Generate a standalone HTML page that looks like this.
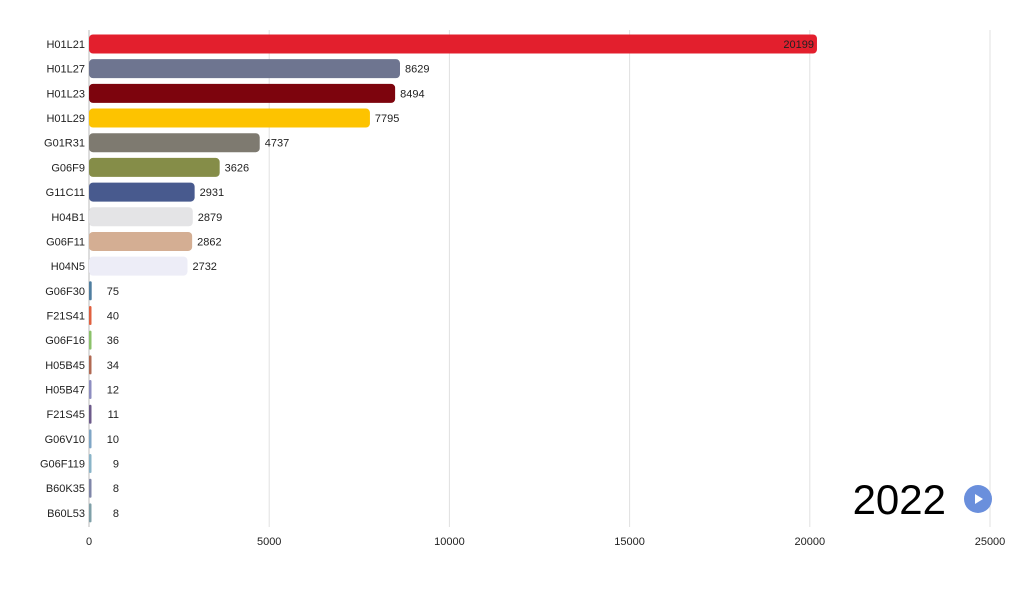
<!DOCTYPE html>
<html><head><meta charset="utf-8"><style>
body{margin:0;background:#fff;}
svg{display:block;font-family:"Liberation Sans",Arial,sans-serif;}
</style></head><body>
<svg id="chart" width="1024" height="590" viewBox="0 0 1024 590"></svg>
<script>
const categories=["H01L21","H01L27","H01L23","H01L29","G01R31","G06F9","G11C11","H04B1","G06F11","H04N5","G06F30","F21S41","G06F16","H05B45","H05B47","F21S45","G06V10","G06F119","B60K35","B60L53"];
const values=[20199,8629,8494,7795,4737,3626,2931,2879,2862,2732,75,40,36,34,12,11,10,9,8,8];
const colors=["#e31f2d","#6e7590","#7d040d","#fdc300","#7e7a70","#858d48","#485a8e","#e4e4e6","#d4ae93","#ededf7","#4f7ea0","#e0603f","#8bc26a","#b06952","#8d8dc0","#6c5a8a","#7fa6c6","#8ab4c8","#7f86a8","#7fa0a8"];
const ticks=[0,5000,10000,15000,20000,25000];
const NS="http://www.w3.org/2000/svg";
const svg=document.getElementById('chart');
const x0=89,x1=990,xMax=25000,yTop=44,step=24.68,bh=19;
const xs=v=>x0+(v/xMax)*(x1-x0);
const ys=i=>yTop+i*step;
function mk(t,a){const e=document.createElementNS(NS,t);for(const k in a)e.setAttribute(k,a[k]);svg.appendChild(e);return e;}
ticks.forEach(t=>{
 const g=mk('line',{x1:xs(t),x2:xs(t),y1:30,y2:527,stroke:t===0?'#bbb':'#e0e0e0','stroke-width':1});
 
 
 const l=mk('text',{x:xs(t),y:545,'text-anchor':'middle','font-size':11,fill:'#222'});
 l.textContent=t;
 
 
});
categories.forEach((c,i)=>{
 const y=ys(i);
 const w=Math.max(xs(values[i])-x0,2.5);
 const r=mk('rect',{x:x0,y:y-bh/2,width:w,height:bh,rx:Math.min(4,w/2),fill:colors[i]});
 
 
 const lab=mk('text',{x:85,y:y+4,'text-anchor':'end','font-size':11,fill:'#222'});
 lab.textContent=c;
 
 
 let vx,anchor;
 if(values[i]>15000){vx=x0+w-3;anchor='end';}
 else if(values[i]<500){vx=119;anchor='end';}
 else{vx=x0+w+5;anchor='start';}
 const v=mk('text',{x:vx,y:y+4,'text-anchor':anchor,'font-size':11,fill:'#222'});
 v.textContent=values[i];
 
 
});
const yr=mk('text',{x:946,y:514,'text-anchor':'end','font-size':42,fill:'#000'});
yr.textContent='2022';


const pb=mk('circle',{cx:978,cy:499,r:14,fill:'#6a8fdc'});


const pt=mk('path',{d:'M975 494 L983 499 L975 504 Z',fill:'#fff'});


</script>
</body></html>
